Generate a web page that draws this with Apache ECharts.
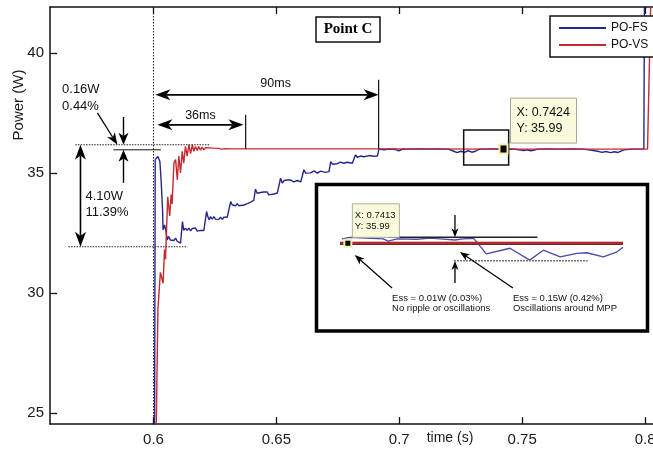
<!DOCTYPE html>
<html>
<head>
<meta charset="utf-8">
<script src="https://cdn.jsdelivr.net/npm/echarts@6/dist/echarts.min.js"></script>
<style>
  html, body { margin: 0; padding: 0; background: #fff; }
  #chart { width: 653px; height: 451px; }
</style>
</head>
<body>
<div id="chart"></div>
<script>
// Tick positions
const xTicks = [0.6, 0.65, 0.7, 0.75, 0.8];
const yTicks = [25, 30, 35, 40];

// PO-FS (fixed step) power trace
const timeFS = [0.558, 0.6004, 0.6007, 0.6018, 0.6026, 0.6031, 0.6037, 0.6039, 0.6045, 0.6050, 0.6056, 0.6061, 0.6069, 0.6076, 0.6083, 0.6090, 0.6097, 0.6103, 0.6110, 0.6114,
  0.6118, 0.6123, 0.6130, 0.6137, 0.6144, 0.6151, 0.6158, 0.6164, 0.6171, 0.6178, 0.6184, 0.6191, 0.6198, 0.6205, 0.6212,
  0.6216, 0.6221, 0.6227, 0.6232, 0.6239, 0.6246, 0.6252, 0.6259, 0.6266, 0.6273, 0.6280, 0.6286, 0.6293, 0.6300, 0.6307,
  0.6314, 0.6320, 0.6327, 0.6334, 0.6341, 0.6347, 0.6354, 0.6368, 0.6382, 0.6395, 0.6408,
  0.6415, 0.6422, 0.6429, 0.6436, 0.6443, 0.6449, 0.6456, 0.6463, 0.6469, 0.6476, 0.6490, 0.6504, 0.6510,
  0.6517, 0.6524, 0.6531, 0.6537, 0.6544, 0.6551, 0.6558, 0.6571, 0.6585, 0.6599, 0.6605,
  0.6612, 0.6619, 0.6626, 0.6639, 0.6653, 0.6667, 0.6680, 0.6700, 0.6714,
  0.6721, 0.6728, 0.6734, 0.6748, 0.6761, 0.6775, 0.6789, 0.6809, 0.6816,
  0.6822, 0.6829, 0.6843, 0.6856, 0.6877, 0.6897, 0.6911,
  0.6917, 0.6924, 0.6938, 0.6960, 0.6985, 0.6998, 0.7012, 0.7040, 0.7080, 0.7120, 0.7160, 0.7200,
  0.7222, 0.7235, 0.7250, 0.7265, 0.7280, 0.7295, 0.7310, 0.7320, 0.7340, 0.7380, 0.7420, 0.7460,
  0.7507, 0.7520, 0.7535, 0.7550, 0.7564, 0.7600, 0.7650, 0.7700, 0.7750,
  0.7808, 0.7825, 0.7840, 0.7860, 0.7875, 0.7890, 0.7914, 0.7950, 0.7995, 0.7998];
const powerFS = [22, 22, 35.55, 35.68, 35.47, 34.7, 33.46, 32.63, 32.83, 32.6, 32.2, 32.35, 32.2, 32.28, 32.18, 32.28, 32.14, 32.2, 32.07, 32.07,
  32.97, 32.6, 32.7, 32.6, 32.7, 32.58, 32.68, 32.6, 32.7, 32.57, 32.65, 32.6, 32.65, 32.6, 32.57,
  33.39, 33.18, 33.04, 33.18, 33.07, 33.18, 33.07, 33.15, 33.06, 33.15, 33.06, 33.15, 33.1, 33.15, 33.12,
  33.8, 33.67, 33.74, 33.62, 33.72, 33.63, 33.7, 33.66, 33.72, 33.78, 33.85,
  34.32, 34.15, 34.1, 34.18, 34.1, 34.2, 34.12, 34.2, 34.08, 34.16, 34.12, 34.16, 34.2,
  34.78, 34.57, 34.68, 34.6, 34.7, 34.62, 34.7, 34.62, 34.68, 34.62, 34.64,
  35.13, 34.99, 35.05, 35.0, 35.08, 34.99, 35.07, 35.02, 35.05,
  35.47, 35.36, 35.43, 35.38, 35.45, 35.4, 35.44, 35.4, 35.42,
  35.75, 35.65, 35.7, 35.67, 35.72, 35.69, 35.7,
  35.99, 35.95, 35.96, 35.99, 35.97, 35.92, 35.98, 35.99, 36.0, 35.99, 36.0, 35.99,
  35.9, 35.84, 35.9, 35.85, 35.92, 35.86, 35.9, 35.97, 35.99, 36.0, 35.99, 36.0,
  35.93, 35.96, 35.92, 35.95, 35.99, 36.0, 35.99, 36.0, 35.99,
  35.9, 35.85, 35.89, 35.84, 35.88, 35.85, 35.96, 35.99, 36.0, 44];

// PO-VS (variable step) power trace
const timeVS = [0.558, 0.6008, 0.6018, 0.6028, 0.6039, 0.6045, 0.6049, 0.6053, 0.6058, 0.6066, 0.6072, 0.6076,
  0.6083, 0.6090, 0.6097, 0.6103, 0.6110, 0.6117, 0.6123, 0.6130, 0.6137, 0.6144, 0.6151, 0.6158, 0.6164,
  0.6171, 0.6178, 0.6184, 0.6191, 0.6198, 0.6205, 0.6212, 0.6220, 0.6228, 0.6236, 0.6244, 0.6252,
  0.6265, 0.6277, 0.6293, 0.6314, 0.7000, 0.7424, 0.8010, 0.8027];
const powerVS = [22, 22, 29.3, 30.85, 30.4, 31.8, 31.4, 32.6, 34.0, 33.2, 34.1, 33.7,
  35.4, 35.55, 34.7, 35.7, 35.0, 35.9, 35.4, 36.1, 35.7, 36.17, 35.8, 36.17, 35.9,
  36.1, 35.93, 36.1, 35.94, 36.07, 35.96, 36.05, 35.97, 36.04, 35.98, 36.03, 35.98,
  36.02, 35.99, 36.01, 36.0, 36.0, 35.99, 35.99, 44];

// Magnified steady-state window
const zoomTimeFS = [0.74124, 0.74132, 0.74166, 0.74171, 0.74180, 0.74200, 0.74214, 0.74224, 0.74239, 0.74247, 0.74258,
  0.74271, 0.74295, 0.74315, 0.74329, 0.74346, 0.74363, 0.74373, 0.74390, 0.74404, 0.74410];
const zoomPowerFS = [36.02, 36.03, 36.02, 36.005, 36.02, 36.017, 36.025, 36.02, 36.012, 36.019, 36.023,
  35.919, 35.957, 35.878, 35.944, 35.90, 35.923, 35.927, 35.90, 35.933, 35.963];
const zoomTimeVS = [0.74122, 0.74410];
const zoomPowerVS = [35.99, 35.99];

// Data-tip points
const tipMain = [0.7424, 35.99];
const tipZoom = [0.7413, 35.99];

const BLUE = '#26268e';
const RED = '#c42a2e';
const FONT = '"Liberation Sans", Arial, sans-serif';

const pairs = (xs, ys) => xs.map((x, i) => [x, ys[i]]);

const chart = echarts.init(document.getElementById('chart'), null, { renderer: 'canvas' });

const X_MIN = 0.5579, X_MAX = 0.81, Y_MIN = 24.53, Y_MAX = 41.91;
const PX_PER_S = 2458, PX_PER_W = 24;

const axisCommon = {
  axisLine: { show: true, lineStyle: { color: '#111', width: 1.5 } },
  splitLine: { show: false }
};

chart.setOption({
  animation: false,
  backgroundColor: '#fff',
  grid: [
    { left: 50, top: 7, width: (X_MAX - X_MIN) * PX_PER_S, height: (Y_MAX - Y_MIN) * PX_PER_W,
      containLabel: false, outerBoundsMode: 'none' },
    { left: 340, top: 219.3, width: 283, height: 52.5, outerBoundsMode: 'none' }
  ],
  xAxis: [
    Object.assign({}, axisCommon, {
      type: 'value', gridIndex: 0, position: 'bottom', min: X_MIN, max: X_MAX,
      axisTick: { show: true, inside: true, length: 7, customValues: xTicks, lineStyle: { color: '#111', width: 1.3 } },
      axisLabel: { show: true, customValues: xTicks, margin: 8, fontSize: 15, color: '#1a1a1a', fontFamily: FONT,
        showMinLabel: true, showMaxLabel: true }
    }),
    Object.assign({}, axisCommon, {
      type: 'value', gridIndex: 0, position: 'top', min: X_MIN, max: X_MAX,
      axisTick: { show: true, inside: true, length: 7, customValues: xTicks, lineStyle: { color: '#111', width: 1.3 } },
      axisLabel: { show: false }
    }),
    { type: 'value', gridIndex: 1, min: 0.74122, max: 0.7441, show: false }
  ],
  yAxis: [
    Object.assign({}, axisCommon, {
      type: 'value', gridIndex: 0, min: Y_MIN, max: Y_MAX,
      axisTick: { show: true, inside: true, length: 7, customValues: yTicks, lineStyle: { color: '#111', width: 1.3 } },
      axisLabel: { show: true, customValues: yTicks, margin: 6, fontSize: 15, color: '#1a1a1a', fontFamily: FONT }
    }),
    { type: 'value', gridIndex: 1, min: 35.80, max: 36.15, show: false }
  ],
  legend: {
    data: ['PO-FS', 'PO-VS'],
    orient: 'vertical', left: 550, top: 16,
    padding: [6, 8, 6, 8], itemWidth: 47, itemHeight: 14, itemGap: 5,
    borderColor: '#111', borderWidth: 1.5, backgroundColor: '#fff',
    itemStyle: { opacity: 0 },
    textStyle: { fontSize: 12, color: '#111', fontFamily: FONT },
    selectedMode: false, z: 30
  },
  series: [
    { name: 'PO-FS', type: 'line', xAxisIndex: 0, yAxisIndex: 0, data: pairs(timeFS, powerFS),
      symbol: 'none', lineStyle: { color: BLUE, width: 1.4 }, itemStyle: { color: BLUE }, z: 3 },
    { name: 'PO-VS', type: 'line', xAxisIndex: 0, yAxisIndex: 0, data: pairs(timeVS, powerVS),
      symbol: 'none', lineStyle: { color: RED, width: 1.4 }, itemStyle: { color: RED }, z: 4 },
    { name: 'PO-FS (zoom)', type: 'line', xAxisIndex: 2, yAxisIndex: 1, data: pairs(zoomTimeFS, zoomPowerFS),
      symbol: 'none', lineStyle: { color: '#4a4aa8', width: 1.3 }, z: 12, clip: false },
    { name: 'PO-VS (zoom edge)', type: 'line', xAxisIndex: 2, yAxisIndex: 1, data: pairs(zoomTimeVS, zoomPowerVS),
      symbol: 'none', lineStyle: { color: '#4a2a2a', width: 3.2 }, z: 13, clip: false },
    { name: 'PO-VS (zoom)', type: 'line', xAxisIndex: 2, yAxisIndex: 1, data: pairs(zoomTimeVS, zoomPowerVS),
      symbol: 'none', lineStyle: { color: '#d0202a', width: 2 }, z: 14, clip: false }
  ]
});

// ---- Annotations (anchored to data coordinates) ----
const P = (t, v) => chart.convertToPixel({ seriesIndex: 0 }, [t, v]);
const Q = (t, v) => chart.convertToPixel({ seriesIndex: 2 }, [t, v]);
const g = [];

function seg(a, b, w, color, dash, z) {
  g.push({ type: 'line', z: z || 20, silent: true,
    shape: { x1: a[0], y1: a[1], x2: b[0], y2: b[1] },
    style: { stroke: color || '#000', lineWidth: w || 1, lineDash: dash || null } });
}
function head(tip, from, len, hw) {
  const dx = tip[0] - from[0], dy = tip[1] - from[1], L = Math.hypot(dx, dy);
  const ux = dx / L, uy = dy / L, nx = -uy, ny = ux;
  const bx = tip[0] - ux * len, by = tip[1] - uy * len;
  const cx = tip[0] - ux * len * 0.72, cy = tip[1] - uy * len * 0.72;
  g.push({ type: 'polygon', z: 21, silent: true,
    shape: { points: [[tip[0], tip[1]], [bx + nx * hw, by + ny * hw], [cx, cy], [bx - nx * hw, by - ny * hw]] },
    style: { fill: '#000' } });
  return [cx, cy];
}
function arrow(from, tip, len, hw, w) {
  const c = head(tip, from, len, hw);
  seg(from, c, w);
}
function dblArrow(a, b, len, hw, w) {
  const c1 = head(a, b, len, hw), c2 = head(b, a, len, hw);
  seg(c1, c2, w);
}
function label(p, text, size, align) {
  g.push({ type: 'text', z: 26, silent: true, x: p[0], y: p[1],
    style: { text: text, fill: '#111', font: size + 'px ' + FONT, align: align || 'left', verticalAlign: 'middle' } });
}

// dotted marker of the irradiance change
seg(P(0.6, Y_MAX), P(0.6, Y_MIN), 1, '#222', [1.5, 1.5], 5);
// overshoot references
seg(P(0.5682, 36.17), P(0.6232, 36.17), 1, '#222', [1.5, 1.2]);
seg(P(0.5837, 35.96), P(0.6030, 35.96), 1, '#111');
seg(P(0.5654, 31.92), P(0.6138, 31.92), 1, '#222', [1.5, 1.2]);
dblArrow(P(0.5703, 36.17), P(0.5703, 31.92), 15, 5.5, 1.6);
arrow(P(0.5878, 37.33), P(0.5878, 36.17), 12, 5, 1.4);
arrow(P(0.5878, 34.58), P(0.5878, 35.96), 12, 5, 1.4);
arrow(P(0.5772, 37.50), P(0.5853, 36.17), 12, 4.5, 1.2);
label(P(0.5628, 38.46), '0.16W', 13);
label(P(0.5628, 37.75), '0.44%', 13);
label(P(0.5723, 34.00), '4.10W', 13);
label(P(0.5723, 33.33), '11.39%', 13);
// settling times
dblArrow(P(0.6008, 38.25), P(0.6916, 38.25), 15, 5.5, 1.6);
seg(P(0.6916, 38.875), P(0.6916, 36.0), 1.2, '#111');
label(P(0.6497, 38.71), '90ms', 12.5, 'center');
dblArrow(P(0.6016, 37.0), P(0.6366, 37.0), 15, 5.5, 1.6);
seg(P(0.6375, 37.42), P(0.6375, 36.0), 1.2, '#111');
label(P(0.6191, 37.375), '36ms', 12.5, 'center');

// magnified window outline
{
  const a = P(0.7262, 36.79), b = P(0.7445, 35.33);
  g.push({ type: 'rect', z: 8, silent: true, shape: { x: a[0], y: a[1], width: b[0] - a[0], height: b[1] - a[1] },
    style: { fill: null, stroke: '#111', lineWidth: 1.5 } });
}
// main data tip
{
  const m = P(tipMain[0], tipMain[1]);
  g.push({ type: 'rect', z: 23, silent: true, shape: { x: m[0] + 7, y: m[1] - 51, width: 66, height: 45 },
    style: { fill: '#fafadc', stroke: '#a8a898', lineWidth: 1 } });
  label([m[0] + 13, m[1] - 37], 'X: 0.7424', 12.5);
  label([m[0] + 13, m[1] - 21], 'Y: 35.99', 12.5);
  g.push({ type: 'rect', z: 23, silent: true, shape: { x: m[0] - 4, y: m[1] - 4.5, width: 8, height: 9 },
    style: { fill: '#000', stroke: '#f2f0a8', lineWidth: 2 } });
}

// title box
g.push({ type: 'rect', z: 20, silent: true, shape: { x: 316, y: 17, width: 64, height: 25 },
  style: { fill: '#fff', stroke: '#111', lineWidth: 1.5 } });
g.push({ type: 'text', z: 21, silent: true, x: 348, y: 29.5,
  style: { text: 'Point C', fill: '#000', font: 'bold 15px "Liberation Serif", "Times New Roman", serif', align: 'center', verticalAlign: 'middle' } });

// axis titles
g.push({ type: 'text', z: 20, silent: true, x: 19, y: 105, rotation: Math.PI / 2,
  style: { text: 'Power (W)', fill: '#1a1a1a', font: '15px ' + FONT, align: 'center', verticalAlign: 'middle' } });
g.push({ type: 'text', z: 20, silent: true, x: 450, y: 438,
  style: { text: 'time (s)', fill: '#1a1a1a', font: '14px ' + FONT, align: 'center', verticalAlign: 'middle' } });

// inset frame
g.push({ type: 'rect', z: 10, silent: true, shape: { x: 316.5, y: 184.5, width: 331, height: 146.5 },
  style: { fill: '#fff', stroke: '#000', lineWidth: 3.5 } });

// inset annotations
seg(Q(0.74171, 36.03), Q(0.74323, 36.03), 1.4, '#222');
seg(Q(0.74238, 35.874), Q(0.74374, 35.874), 1.4, '#777', [2, 1]);
arrow(Q(0.74239, 36.179), Q(0.74239, 36.03), 9, 3.5, 1.3);
arrow(Q(0.74239, 35.725), Q(0.74239, 35.872), 9, 3.5, 1.3);
arrow(Q(0.74175, 35.692), Q(0.74137, 35.912), 10, 3.8, 1.2);
arrow(Q(0.74298, 35.692), Q(0.74244, 35.932), 10, 3.8, 1.2);
label(Q(0.74175, 35.625), 'Ess = 0.01W (0.03%)', 9.5);
label(Q(0.74175, 35.559), 'No ripple or oscillations', 9.5);
label(Q(0.74298, 35.625), 'Ess = 0.15W (0.42%)', 9.5);
label(Q(0.74298, 35.559), 'Oscillations around MPP', 9.5);
{
  const m = Q(tipZoom[0], tipZoom[1]);
  g.push({ type: 'rect', z: 23, silent: true, shape: { x: m[0] + 4.5, y: m[1] - 39.5, width: 47, height: 33.5 },
    style: { fill: '#fafadc', stroke: '#b0b0a0', lineWidth: 1 } });
  label([m[0] + 7, m[1] - 27.5], 'X: 0.7413', 9.5);
  label([m[0] + 7, m[1] - 16.5], 'Y: 35.99', 9.5);
  g.push({ type: 'rect', z: 23, silent: true, shape: { x: m[0] - 3.5, y: m[1] - 3.5, width: 7, height: 7 },
    style: { fill: '#000', stroke: '#f2f0a8', lineWidth: 2 } });
}

chart.setOption({ graphic: g });
</script>
</body>
</html>
